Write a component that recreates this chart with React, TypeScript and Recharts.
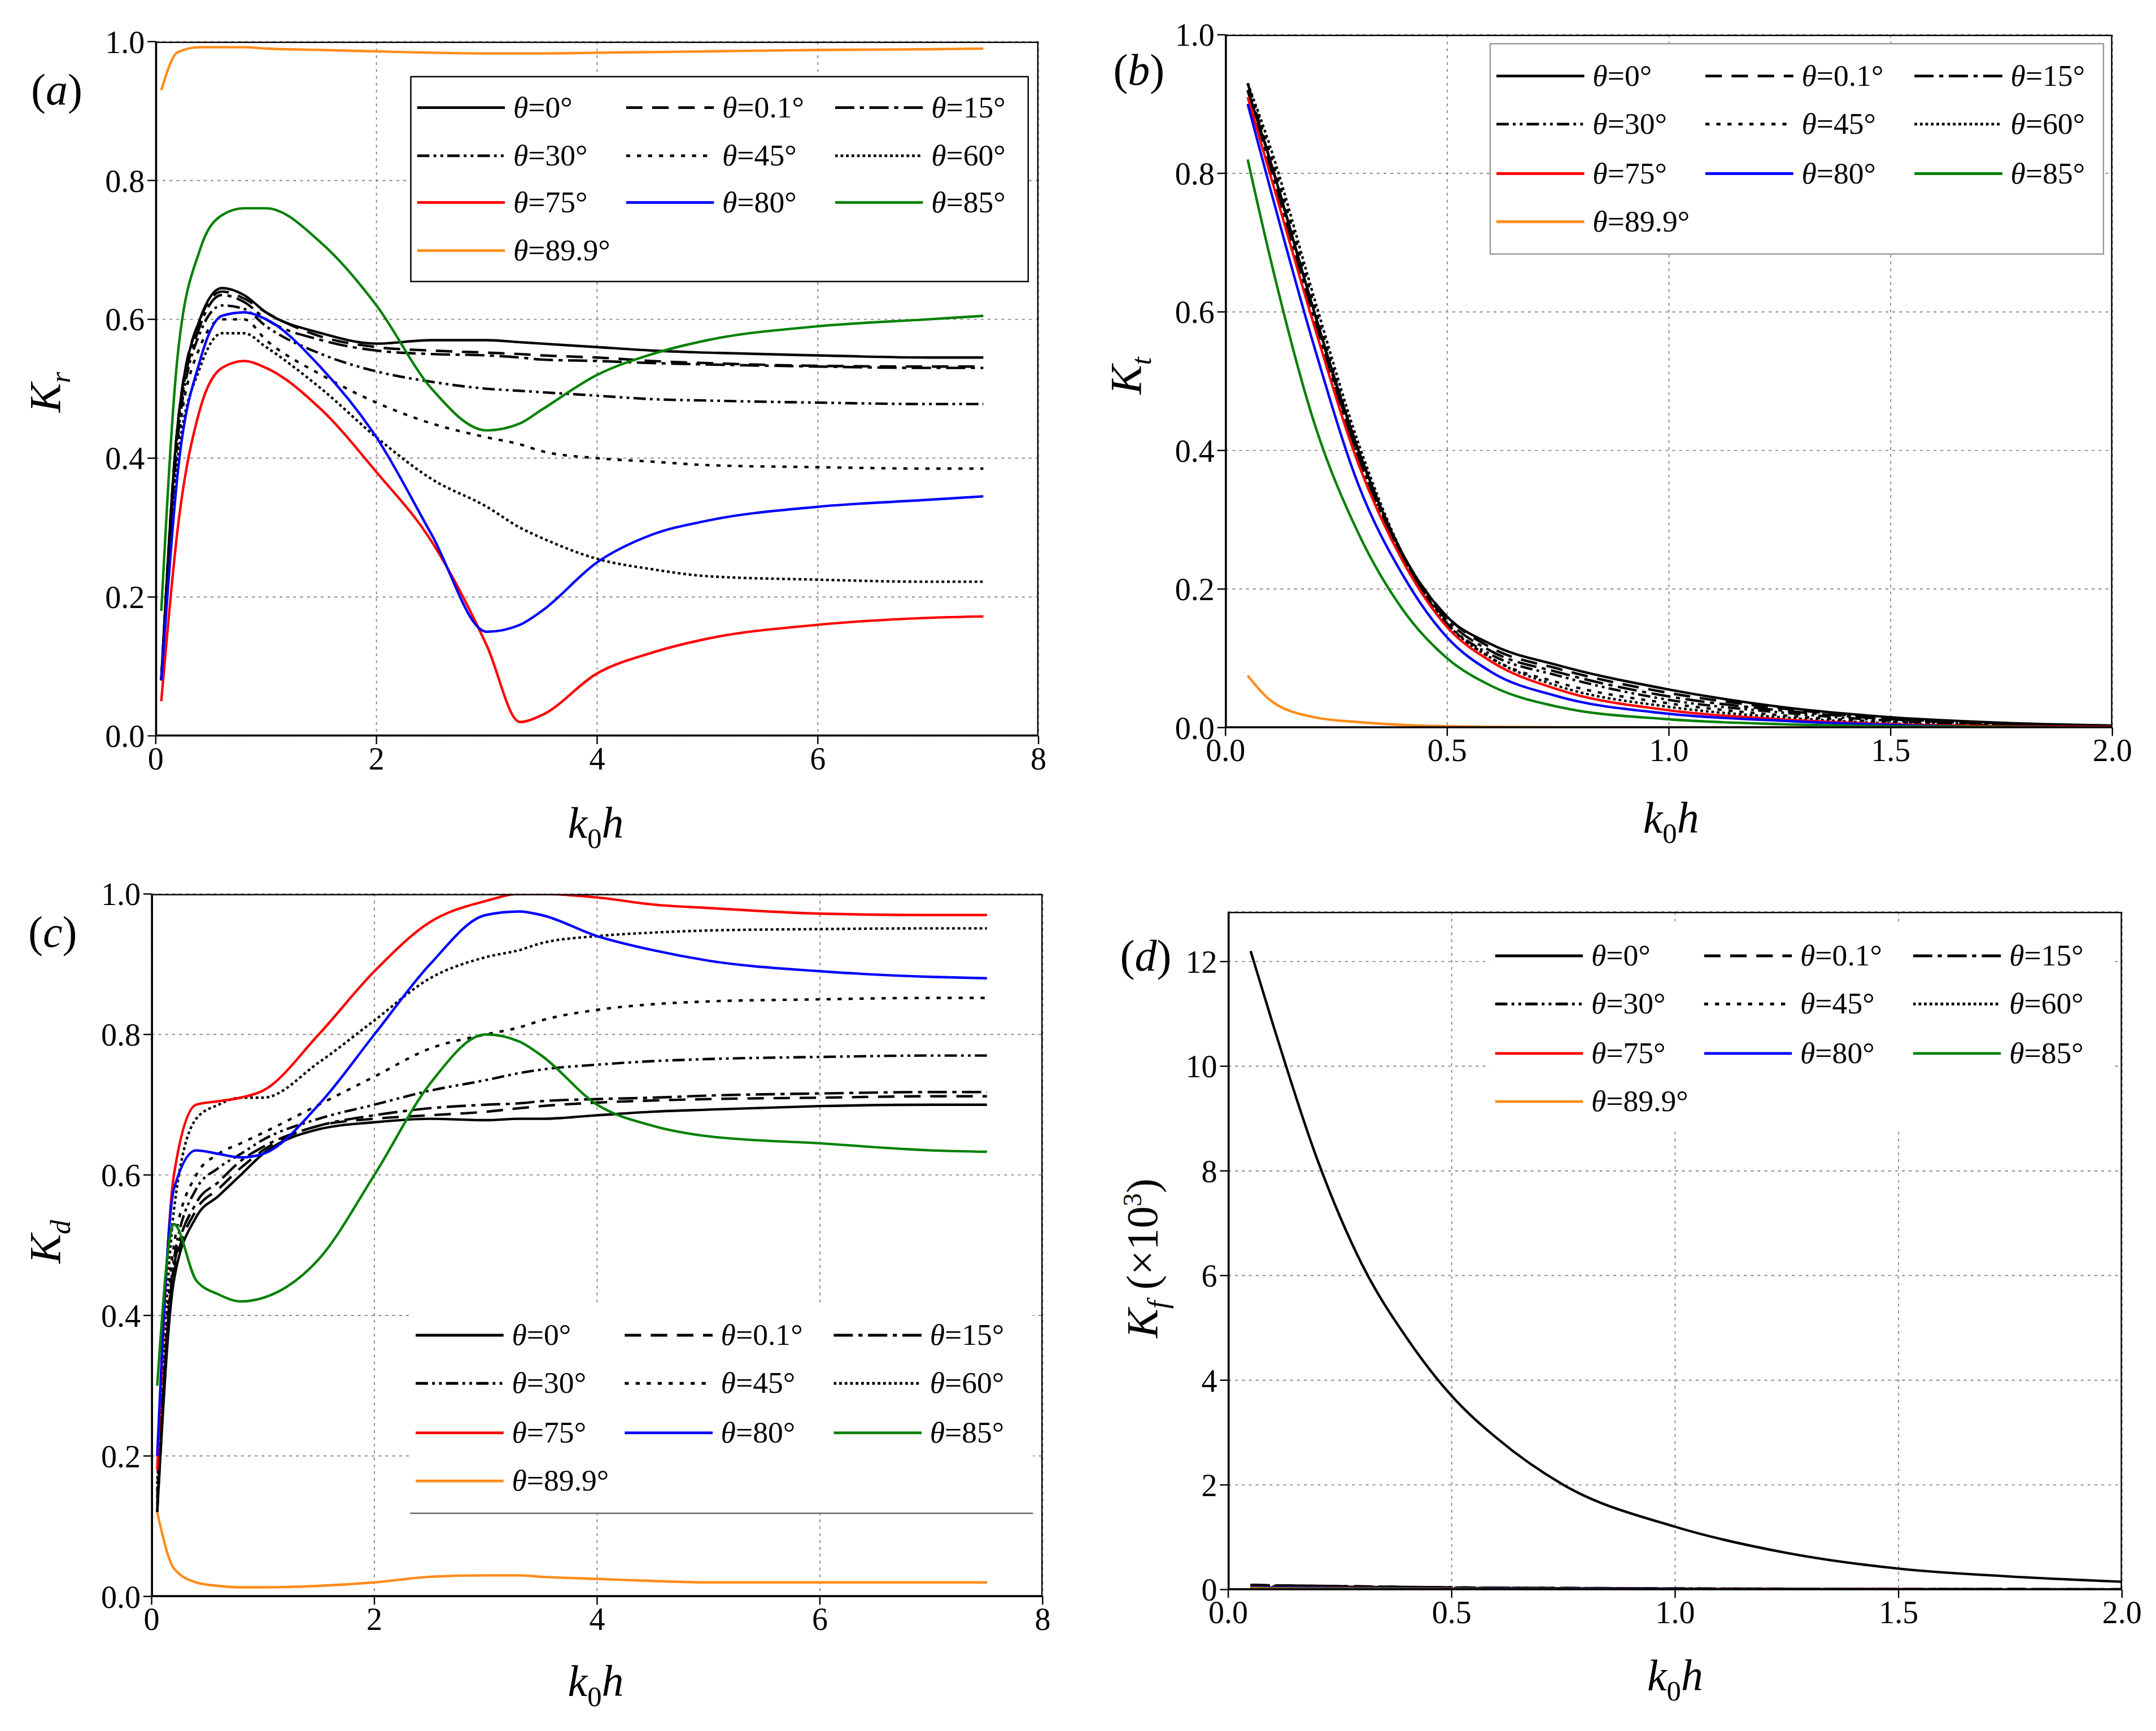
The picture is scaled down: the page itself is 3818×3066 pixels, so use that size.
import React from 'react';
import { LineChart, Line, XAxis, YAxis, CartesianGrid } from 'recharts';

const S = 3818 / 1568;

// ---- data ----
const xAC = [0.05, 0.2, 0.4, 0.6, 0.8, 1, 1.5, 2, 2.5, 3, 3.3, 3.5, 4, 4.5, 5, 6, 7, 7.5];
const xBD = [0.05, 0.1, 0.2, 0.3, 0.4, 0.5, 0.6, 0.75, 1, 1.25, 1.5, 1.75, 2];

const thetas = ['0', '0.1', '15', '30', '45', '60', '75', '80', '85', '89.9'];

const kr = [
  [0.08, 0.45, 0.6, 0.645, 0.635, 0.61, 0.58, 0.565, 0.57, 0.57, 0.567, 0.565, 0.56, 0.555, 0.552, 0.548, 0.545, 0.545],
  [0.08, 0.45, 0.6, 0.64, 0.63, 0.61, 0.575, 0.56, 0.555, 0.552, 0.55, 0.548, 0.545, 0.54, 0.537, 0.533, 0.532, 0.532],
  [0.08, 0.44, 0.59, 0.635, 0.625, 0.6, 0.57, 0.555, 0.55, 0.548, 0.545, 0.542, 0.54, 0.537, 0.535, 0.532, 0.53, 0.53],
  [0.08, 0.43, 0.58, 0.62, 0.615, 0.59, 0.55, 0.525, 0.51, 0.5, 0.497, 0.495, 0.49, 0.485, 0.483, 0.48, 0.478, 0.478],
  [0.08, 0.42, 0.56, 0.6, 0.6, 0.57, 0.52, 0.48, 0.45, 0.43, 0.42, 0.41, 0.4, 0.395, 0.39, 0.387, 0.385, 0.385],
  [0.08, 0.4, 0.53, 0.58, 0.58, 0.56, 0.5, 0.43, 0.37, 0.33, 0.3, 0.285, 0.255, 0.24, 0.23, 0.225, 0.222, 0.222],
  [0.05, 0.3, 0.47, 0.53, 0.54, 0.53, 0.47, 0.38, 0.28, 0.13, 0.02, 0.03, 0.09, 0.12, 0.14, 0.16, 0.17, 0.172],
  [0.08, 0.38, 0.54, 0.605, 0.61, 0.6, 0.53, 0.43, 0.29, 0.15, 0.16, 0.18, 0.25, 0.29, 0.31, 0.33, 0.34, 0.345],
  [0.18, 0.55, 0.7, 0.75, 0.76, 0.76, 0.71, 0.62, 0.5, 0.44, 0.45, 0.47, 0.52, 0.55, 0.57, 0.59, 0.6, 0.605],
  [0.93, 0.985, 0.992, 0.992, 0.992, 0.99, 0.988, 0.986, 0.984, 0.983, 0.983, 0.983, 0.984, 0.985, 0.986, 0.988, 0.989, 0.99],
];

const kt = [
  [0.92, 0.82, 0.6, 0.4, 0.25, 0.16, 0.12, 0.09, 0.055, 0.03, 0.015, 0.007, 0.003],
  [0.92, 0.82, 0.6, 0.4, 0.25, 0.16, 0.115, 0.085, 0.05, 0.028, 0.013, 0.006, 0.003],
  [0.92, 0.81, 0.59, 0.39, 0.245, 0.155, 0.11, 0.08, 0.045, 0.025, 0.012, 0.005, 0.002],
  [0.93, 0.82, 0.6, 0.39, 0.245, 0.15, 0.105, 0.075, 0.04, 0.022, 0.01, 0.004, 0.002],
  [0.93, 0.83, 0.61, 0.4, 0.245, 0.15, 0.1, 0.065, 0.035, 0.018, 0.008, 0.003, 0.001],
  [0.93, 0.84, 0.62, 0.41, 0.25, 0.15, 0.1, 0.06, 0.03, 0.015, 0.006, 0.002, 0.001],
  [0.91, 0.8, 0.58, 0.38, 0.24, 0.145, 0.095, 0.055, 0.025, 0.012, 0.005, 0.002, 0.001],
  [0.9, 0.78, 0.55, 0.35, 0.22, 0.13, 0.08, 0.045, 0.02, 0.01, 0.004, 0.001, 0.0005],
  [0.82, 0.68, 0.44, 0.28, 0.17, 0.1, 0.06, 0.03, 0.012, 0.005, 0.002, 0.001, 0],
  [0.075, 0.04, 0.015, 0.008, 0.004, 0.002, 0.001, 0.0005, 0, 0, 0, 0, 0],
];

const kd = [
  [0.12, 0.45, 0.54, 0.57, 0.6, 0.63, 0.665, 0.675, 0.68, 0.678, 0.68, 0.68, 0.685, 0.69, 0.693, 0.698, 0.7, 0.7],
  [0.12, 0.46, 0.55, 0.58, 0.61, 0.635, 0.67, 0.68, 0.685, 0.69, 0.695, 0.698, 0.703, 0.706, 0.708, 0.71, 0.712, 0.712],
  [0.13, 0.47, 0.56, 0.59, 0.62, 0.64, 0.67, 0.685, 0.695, 0.7, 0.702, 0.705, 0.708, 0.71, 0.713, 0.716, 0.718, 0.718],
  [0.14, 0.48, 0.58, 0.61, 0.63, 0.65, 0.68, 0.7, 0.72, 0.735, 0.745, 0.75, 0.757, 0.762, 0.765, 0.768, 0.77, 0.77],
  [0.15, 0.5, 0.6, 0.63, 0.645, 0.66, 0.7, 0.74, 0.78, 0.8, 0.81, 0.82, 0.835, 0.843, 0.847, 0.85, 0.852, 0.852],
  [0.16, 0.55, 0.68, 0.7, 0.71, 0.71, 0.76, 0.82, 0.88, 0.91, 0.92, 0.93, 0.94, 0.945, 0.948, 0.95, 0.951, 0.951],
  [0.18, 0.6, 0.7, 0.705, 0.71, 0.72, 0.8, 0.89, 0.96, 0.99, 1.0, 1.0, 0.995, 0.985, 0.98, 0.972, 0.97, 0.97],
  [0.2, 0.58, 0.635, 0.63, 0.625, 0.63, 0.7, 0.8, 0.9, 0.97, 0.975, 0.97, 0.94, 0.92, 0.905, 0.89, 0.882, 0.88],
  [0.3, 0.53, 0.45, 0.43, 0.42, 0.425, 0.48, 0.6, 0.73, 0.8, 0.79, 0.77, 0.7, 0.67, 0.655, 0.645, 0.635, 0.633],
  [0.12, 0.04, 0.02, 0.015, 0.013, 0.013, 0.015, 0.02, 0.028, 0.03, 0.03, 0.028, 0.025, 0.022, 0.02, 0.02, 0.02, 0.02],
];

const kf = [
  [12.2, 10.8, 8.2, 6.2, 4.8, 3.7, 2.9, 2.0, 1.2, 0.7, 0.4, 0.25, 0.15],
  [0.09, 0.08, 0.07, 0.06, 0.05, 0.04, 0.035, 0.03, 0.02, 0.015, 0.01, 0.008, 0.005],
  [0.09, 0.08, 0.07, 0.06, 0.05, 0.04, 0.035, 0.03, 0.02, 0.015, 0.01, 0.008, 0.005],
  [0.08, 0.07, 0.06, 0.05, 0.045, 0.04, 0.03, 0.025, 0.02, 0.012, 0.008, 0.006, 0.004],
  [0.07, 0.06, 0.05, 0.045, 0.04, 0.035, 0.03, 0.02, 0.015, 0.01, 0.007, 0.005, 0.003],
  [0.06, 0.05, 0.045, 0.04, 0.035, 0.03, 0.025, 0.02, 0.012, 0.008, 0.006, 0.004, 0.002],
  [0.05, 0.04, 0.035, 0.03, 0.025, 0.02, 0.018, 0.015, 0.01, 0.007, 0.005, 0.003, 0.002],
  [0.04, 0.035, 0.03, 0.025, 0.02, 0.018, 0.015, 0.012, 0.008, 0.006, 0.004, 0.003, 0.002],
  [0.03, 0.025, 0.02, 0.018, 0.015, 0.012, 0.01, 0.008, 0.006, 0.004, 0.003, 0.002, 0.001],
  [0.02, 0.015, 0.01, 0.008, 0.006, 0.005, 0.004, 0.003, 0.002, 0.001, 0.001, 0, 0],
];

const styles = [
  { color: '#000', dash: undefined },
  { color: '#000', dash: '12 7' },
  { color: '#000', dash: '14 4 3 4' },
  { color: '#000', dash: '9 3 2 3 2 3' },
  { color: '#000', dash: '3 5' },
  { color: '#000', dash: '2 2' },
  { color: '#ff0000', dash: undefined },
  { color: '#0000ff', dash: undefined },
  { color: '#008000', dash: undefined },
  { color: '#ff8c1a', dash: undefined },
];

const build = (xs: number[], ys: number[][]) =>
  xs.map((x, i) => {
    const row: any = { x };
    ys.forEach((s, j) => (row['s' + j] = s[i]));
    return row;
  });

const serif = '"Liberation Serif", "Times New Roman", "DejaVu Serif", serif';

const Legend: React.FC<{ left: number; top: number; width: number; height: number; border: string }> = ({ left, top, width, height, border }) => (
  <div style={{ position: 'absolute', left, top, width, height, border, boxSizing: 'border-box', background: '#fff', display: 'grid', gridTemplateColumns: '1fr 1fr 1fr', alignContent: 'space-evenly', padding: '0 4px', fontFamily: serif, fontSize: 22 }}>
    {thetas.map((t, i) => (
      <div key={t} style={{ display: 'flex', alignItems: 'center', justifyContent: 'flex-end', gap: 6 }}>
        <svg width={64} height={10}>
          <line x1={0} y1={5} x2={64} y2={5} stroke={styles[i].color} strokeWidth={2} strokeDasharray={styles[i].dash} />
        </svg>
        <span style={{ width: 82 }}><i>θ</i>={t}°</span>
      </div>
    ))}
  </div>
);

type PanelProps = {
  left: number; top: number; width: number; height: number;
  plot: { l: number; r: number; t: number; b: number };
  xs: number[]; ys: number[][];
  xDomain: [number, number]; xTicks: number[]; xFmt: (v: number) => string;
  yDomain: [number, number]; yTicks: number[]; yFmt: (v: number) => string;
};

const Panel: React.FC<PanelProps> = (p) => {
  const data = build(p.xs, p.ys);
  const tick = { fontFamily: serif, fontSize: 23, fill: '#000' };
  return (
    <div style={{ position: 'absolute', left: p.left, top: p.top }}>
      <LineChart width={p.width} height={p.height} data={data}
        margin={{ left: 0, right: p.width - p.plot.r, top: p.plot.t, bottom: 0 }}>
        <CartesianGrid stroke="#888" strokeDasharray="2 3" strokeWidth={0.8} />
        <XAxis type="number" dataKey="x" domain={p.xDomain} ticks={p.xTicks} tickFormatter={p.xFmt} height={p.height - p.plot.b}
          tick={tick} stroke="#000" tickSize={6} allowDataOverflow />
        <YAxis type="number" domain={p.yDomain} ticks={p.yTicks} tickFormatter={p.yFmt} width={p.plot.l}
          tick={tick} stroke="#000" tickSize={6} allowDataOverflow />
        {p.ys.map((_, j) => (
          <Line key={j} dataKey={'s' + j} type="monotone" dot={false} stroke={styles[j].color}
            strokeDasharray={styles[j].dash} strokeWidth={1.8} isAnimationActive={false} />
        ))}
      </LineChart>
      <div style={{ position: 'absolute', left: p.plot.l, top: p.plot.t, width: p.plot.r - p.plot.l, height: p.plot.b - p.plot.t, border: '1px solid #000', boxSizing: 'border-box', pointerEvents: 'none' }} />
    </div>
  );
};

const f1 = (v: number) => v.toFixed(1);
const f0 = (v: number) => String(v);

const Txt: React.FC<{ x: number; y: number; size?: number; rot?: boolean; children: React.ReactNode }> = ({ x, y, size = 32, rot, children }) => (
  <div style={{ position: 'absolute', left: x, top: y, fontFamily: serif, fontSize: size, whiteSpace: 'nowrap', transform: rot ? 'translate(-50%,-50%) rotate(-90deg)' : 'translate(-50%,-50%)' }}>{children}</div>
);

const k0h = <span><i>k</i><sub style={{ fontSize: '0.65em' }}>0</sub><i>h</i></span>;

export default function App() {
  return (
    <div style={{ width: 3818, height: 3066, overflow: 'hidden', background: '#fff', position: 'relative' }}>
      <div style={{ position: 'absolute', left: 0, top: 0, width: 1568, height: 1259, transform: `scale(${S})`, transformOrigin: 'top left' }}>
        <Panel left={0} top={0} width={780} height={620} plot={{ l: 110, r: 752, t: 27, b: 532 }}
          xs={xAC} ys={kr} xDomain={[0, 8]} xTicks={[0, 2, 4, 6, 8]} xFmt={f0}
          yDomain={[0, 1]} yTicks={[0, 0.2, 0.4, 0.6, 0.8, 1]} yFmt={f1} />
        <Panel left={780} top={0} width={788} height={620} plot={{ l: 108, r: 753, t: 22, b: 526 }}
          xs={xBD} ys={kt} xDomain={[0, 2]} xTicks={[0, 0.5, 1, 1.5, 2]} xFmt={f1}
          yDomain={[0, 1]} yTicks={[0, 0.2, 0.4, 0.6, 0.8, 1]} yFmt={f1} />
        <Panel left={0} top={620} width={780} height={639} plot={{ l: 107, r: 755, t: 27, b: 538 }}
          xs={xAC} ys={kd} xDomain={[0, 8]} xTicks={[0, 2, 4, 6, 8]} xFmt={f0}
          yDomain={[0, 1]} yTicks={[0, 0.2, 0.4, 0.6, 0.8, 1]} yFmt={f1} />
        <Panel left={780} top={620} width={788} height={639} plot={{ l: 110, r: 760, t: 40, b: 533 }}
          xs={xBD} ys={kf} xDomain={[0, 2]} xTicks={[0, 0.5, 1, 1.5, 2]} xFmt={f1}
          yDomain={[0, 12.95]} yTicks={[0, 2, 4, 6, 8, 10, 12]} yFmt={f0} />

        <Legend left={295} top={52} width={450} height={150} border="1px solid #000" />
        <Legend left={1080} top={28} width={447} height={154} border="1px solid #999" />
        <Legend left={295} top={945} width={453} height={152} border="none" />
        <div style={{ position: 'absolute', left: 295, top: 1097, width: 453, borderTop: '1px solid #666' }} />
        <Legend left={1080} top={670} width={453} height={150} border="none" />

        <Txt x={38} y={62}>(<i>a</i>)</Txt>
        <Txt x={825} y={48}>(<i>b</i>)</Txt>
        <Txt x={35} y={675}>(<i>c</i>)</Txt>
        <Txt x={830} y={692}>(<i>d</i>)</Txt>

        <Txt x={32} y={282} rot><i>K</i><sub style={{ fontSize: '0.65em' }}><i>r</i></sub></Txt>
        <Txt x={818} y={270} rot><i>K</i><sub style={{ fontSize: '0.65em' }}><i>t</i></sub></Txt>
        <Txt x={32} y={900} rot><i>K</i><sub style={{ fontSize: '0.65em' }}><i>d</i></sub></Txt>
        <Txt x={830} y={912} rot><i>K</i><sub style={{ fontSize: '0.65em' }}><i>f</i></sub> (×10<sup style={{ fontSize: '0.6em' }}>3</sup>)</Txt>

        <Txt x={430} y={598}>{k0h}</Txt>
        <Txt x={1212} y={594}>{k0h}</Txt>
        <Txt x={430} y={1222}>{k0h}</Txt>
        <Txt x={1215} y={1218}>{k0h}</Txt>
      </div>
    </div>
  );
}
